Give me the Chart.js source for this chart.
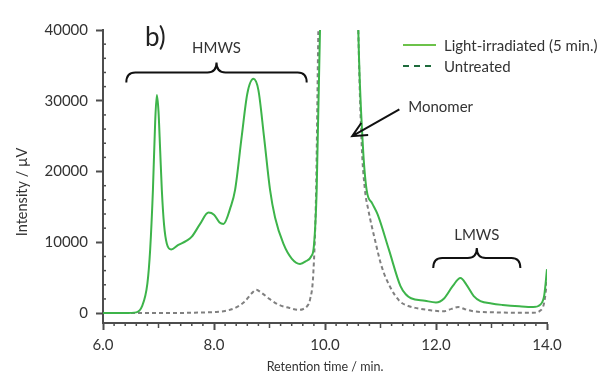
<!DOCTYPE html>
<html>
<head>
<meta charset="utf-8">
<script src="https://cdn.jsdelivr.net/npm/chart.js@4.4.1/dist/chart.umd.min.js"></script>
<style>
    body { margin: 0; background: #ffffff; }
    #wrap { width: 612px; height: 380px; }
</style>
</head>
<body>
<div id="wrap"><canvas id="hplcChart" width="612" height="380"></canvas></div>
<script>

// DATA

const seriesNames = ['Light-irradiated (5 min.)', 'Untreated'];

const irradiatedTime = [
    6.0, 6.4, 6.6, 6.7, 6.8, 6.85, 6.9, 6.94, 6.97, 7.0,
    7.03, 7.06, 7.1, 7.15, 7.23, 7.35, 7.5, 7.6, 7.75, 7.9,
    8.0, 8.1, 8.17, 8.3, 8.38, 8.5, 8.6, 8.71, 8.8, 8.9,
    9.01, 9.1, 9.25, 9.4, 9.55, 9.65, 9.75, 9.8, 9.85, 9.91,
    10.0, 10.25, 10.5, 10.6, 10.68, 10.75, 10.85, 10.95, 11.15, 11.36,
    11.45, 11.55, 11.8, 12.0, 12.15, 12.3, 12.44, 12.55, 12.68, 12.8,
    13.0, 13.2, 13.5, 13.75, 13.88, 13.95, 14.0
];
const irradiatedSignal = [
    0, 0, 100, 900, 4200, 9000, 17500, 27000, 30800, 28500,
    23000, 17400, 12500, 9800, 9000, 9600, 10200, 10800, 12600, 14200,
    13900, 12800, 12600, 15000, 17400, 25000, 31000, 33100, 31500, 25000,
    17400, 13500, 9800, 7700, 6950, 7300, 8000, 9500, 17400, 40000,
    90000, 130000, 90000, 40000, 24000, 17400, 15500, 13900, 9000, 3800,
    2700, 2100, 1750, 1500, 2100, 3800, 4950, 4000, 2400, 1700,
    1350, 1150, 950, 850, 1200, 2500, 6200
];

const untreatedTime = [
    6.0, 7.0, 7.6, 8.0, 8.2, 8.4, 8.55, 8.68, 8.76, 8.85,
    9.0, 9.16, 9.35, 9.52, 9.6, 9.68, 9.73, 9.79, 9.84, 9.88,
    10.0, 10.25, 10.5, 10.6, 10.66, 10.72, 10.78, 10.9, 11.02, 11.17,
    11.35, 11.5, 11.65, 11.9, 12.13, 12.28, 12.4, 12.52, 12.68, 13.0,
    13.5, 13.75, 13.88, 13.95, 14.0
];
const untreatedSignal = [
    0, 0, 50, 150, 300, 800, 1600, 2800, 3300, 2900,
    2000, 1200, 750, 470, 550, 1000, 1900, 5700, 17400, 40000,
    90000, 130000, 90000, 40000, 24000, 17400, 14600, 10350, 6600, 3750,
    1650, 1000, 700, 400, 250, 600, 850, 550, 250, 120,
    50, 50, 350, 1500, 4500
];

const xTickLabels = [6, 8, 10, 12, 14];
const yTickLabels = [0, 10000, 20000, 30000, 40000];


// STYLE

const textColor = '#333333';
const axisColor = '#4d4d4d';
const irradiatedColor = '#3db44a';
const untreatedColor = '#808080';

Chart.defaults.font.family = 'Lato';
Chart.defaults.color = textColor;

function toPoints(times, values) {
    return times.map((t, i) => ({ x: t, y: values[i] }));
}


// EXTRA DRAWING: minor ticks, braces, labels, legend

function drawBrace(c, x0, x1, yTop, h) {
    const xm = (x0 + x1) / 2;
    const r = 9;
    c.beginPath();
    c.moveTo(x0, yTop + h);
    c.quadraticCurveTo(x0, yTop, x0 + r, yTop);
    c.lineTo(xm - r, yTop);
    c.quadraticCurveTo(xm, yTop, xm, yTop - h);
    c.quadraticCurveTo(xm, yTop, xm + r, yTop);
    c.lineTo(x1 - r, yTop);
    c.quadraticCurveTo(x1, yTop, x1, yTop + h);
    c.stroke();
}

const extras = {

    id: 'extras',

    afterDraw(chart) {

        const c = chart.ctx;
        const x = chart.scales.x;
        const y = chart.scales.y;
        const area = chart.chartArea;

        c.save();

        // minor ticks
        c.strokeStyle = axisColor;
        c.lineWidth = 1.5;

        for (let i = 1; i < 40; i++) {
            if (i % 10 === 0) continue;
            const len = i % 5 === 0 ? 5 : 3;
            const px = x.getPixelForValue(6 + i * 0.2);
            c.beginPath();
            c.moveTo(px, area.bottom);
            c.lineTo(px, area.bottom + len);
            c.stroke();
        }

        for (let v = 2000; v < 40000; v += 2000) {
            if (v % 10000 === 0) continue;
            const py = y.getPixelForValue(v);
            c.beginPath();
            c.moveTo(area.left, py);
            c.lineTo(area.left + 3, py);
            c.stroke();
        }

        // braces
        c.strokeStyle = '#111111';
        c.lineWidth = 2;

        const hLeft = x.getPixelForValue(6.42);
        const hRight = x.getPixelForValue(9.67);
        const hTop = y.getPixelForValue(34000);
        drawBrace(c, hLeft, hRight, hTop, 10);

        const lLeft = x.getPixelForValue(11.95);
        const lRight = x.getPixelForValue(13.52);
        const lTop = y.getPixelForValue(7800);
        drawBrace(c, lLeft, lRight, lTop, 10);

        // arrow to monomer
        const ax0 = x.getPixelForValue(11.34);
        const ay0 = y.getPixelForValue(28800);
        const ax1 = x.getPixelForValue(10.49);
        const ay1 = y.getPixelForValue(25000);
        const ang = Math.atan2(ay1 - ay0, ax1 - ax0);
        c.beginPath();
        c.moveTo(ax0, ay0);
        c.lineTo(ax1, ay1);
        c.moveTo(ax1 - 16 * Math.cos(ang - 0.45), ay1 - 16 * Math.sin(ang - 0.45));
        c.lineTo(ax1, ay1);
        c.lineTo(ax1 - 16 * Math.cos(ang + 0.45), ay1 - 16 * Math.sin(ang + 0.45));
        c.stroke();

        // labels
        c.fillStyle = textColor;
        c.textBaseline = 'middle';
        c.textAlign = 'center';
        c.font = '15px Lato';
        c.fillText('HMWS', (hLeft + hRight) / 2, hTop - 24);
        c.fillText('LMWS', (lLeft + lRight) / 2, lTop - 23);

        c.textAlign = 'left';
        c.fillText('Monomer', x.getPixelForValue(11.5), y.getPixelForValue(29100));

        c.font = '26px Lato';
        c.textBaseline = 'alphabetic';
        c.fillStyle = '#222222';
        c.fillText('b)', area.left + 42, area.top + 16);

        // y axis title
        c.save();
        c.font = '14.5px Lato';
        c.fillStyle = textColor;
        c.textAlign = 'center';
        c.textBaseline = 'middle';
        c.translate(22, area.top + 162);
        c.rotate(-Math.PI / 2);
        c.fillText('Intensity / µV', 0, 0);
        c.restore();

        // legend
        c.font = '15px Lato';
        c.textBaseline = 'middle';
        c.textAlign = 'left';
        c.fillStyle = textColor;

        const lx = area.right - 144;
        c.lineWidth = 2;

        c.strokeStyle = '#6cc24a';
        c.setLineDash([]);
        c.beginPath();
        c.moveTo(lx, area.top + 15);
        c.lineTo(lx + 33, area.top + 15);
        c.stroke();
        c.fillText(seriesNames[0], lx + 41, area.top + 16);

        c.strokeStyle = '#1e6b3c';
        c.setLineDash([6, 5]);
        c.beginPath();
        c.moveTo(lx, area.top + 36);
        c.lineTo(lx + 33, area.top + 36);
        c.stroke();
        c.setLineDash([]);
        c.fillText(seriesNames[1], lx + 41, area.top + 37);

        c.restore();
    }
};


// CHROMATOGRAM

const ctx = document.getElementById('hplcChart');

new Chart(ctx, {

    type: 'line',

    data: {
        datasets: [{
            label: seriesNames[0],
            data: toPoints(irradiatedTime, irradiatedSignal),
            borderColor: irradiatedColor,
            borderWidth: 2,
            pointRadius: 0,
            cubicInterpolationMode: 'monotone',
            fill: false
        }, {
            label: seriesNames[1],
            data: toPoints(untreatedTime, untreatedSignal),
            borderColor: untreatedColor,
            borderWidth: 2,
            borderDash: [4, 3],
            pointRadius: 0,
            cubicInterpolationMode: 'monotone',
            fill: false
        }]
    },

    options: {

        responsive: false,
        animation: false,
        devicePixelRatio: 1,

        layout: {
            padding: { left: 0, right: 65, top: 30, bottom: 2 }
        },

        plugins: {
            legend: { display: false },
            tooltip: { enabled: false }
        },

        scales: {

            x: {
                type: 'linear',
                min: 6,
                max: 14,
                afterBuildTicks: (scale) => {
                    scale.ticks = xTickLabels.map(v => ({ value: v }));
                },
                afterFit: (scale) => {
                    scale.height = 55;
                },
                ticks: {
                    color: textColor,
                    font: { size: 15 },
                    padding: 6,
                    maxRotation: 0,
                    callback: (v) => Number(v).toFixed(1)
                },
                grid: {
                    drawOnChartArea: false,
                    drawTicks: true,
                    tickLength: 7,
                    tickWidth: 2,
                    tickColor: axisColor
                },
                border: {
                    color: axisColor,
                    width: 2
                },
                title: {
                    display: true,
                    text: 'Retention time / min.',
                    color: textColor,
                    font: { size: 12.5 },
                    padding: { top: 4, bottom: 4 }
                }
            },

            y: {
                min: -1400,
                max: 40000,
                afterBuildTicks: (scale) => {
                    scale.ticks = yTickLabels.map(v => ({ value: v }));
                },
                afterFit: (scale) => {
                    scale.width = 103;
                },
                ticks: {
                    color: textColor,
                    font: { size: 15 },
                    padding: 8,
                    callback: (v) => String(v)
                },
                grid: {
                    drawOnChartArea: false,
                    drawTicks: true,
                    tickLength: 7,
                    tickWidth: 2,
                    tickColor: axisColor
                },
                border: {
                    color: axisColor,
                    width: 2
                }
            }

        }

    },

    plugins: [extras]

});

</script>
</body>
</html>
